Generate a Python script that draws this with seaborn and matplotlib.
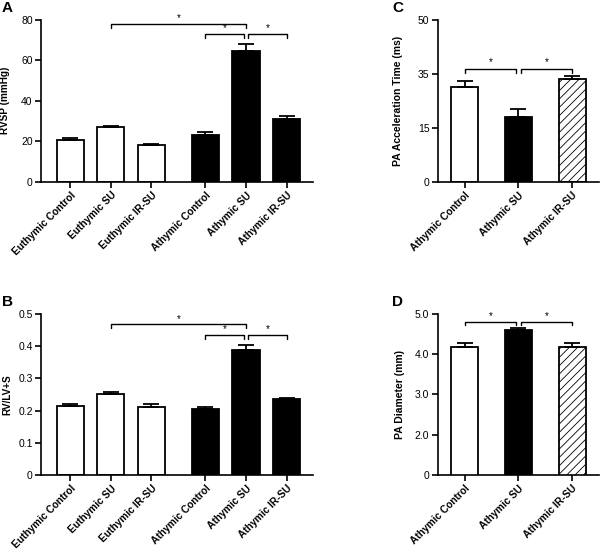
import numpy as np
import pandas as pd
import matplotlib
matplotlib.use("Agg")
import matplotlib.pyplot as plt
import seaborn as sns

# group names
groups_all = ["Euthymic Control", "Euthymic SU", "Euthymic IR-SU",
              "Athymic Control", "Athymic SU", "Athymic IR-SU"]
groups_athy = ["Athymic Control", "Athymic SU", "Athymic IR-SU"]

# bar positions for the 6-group panels (gap between the two strains)
pos_all = [0, 1, 2, 3.33, 4.33, 5.33]

# panel A: RVSP (mmHg), mean and SEM
rvsp = [20.6, 26.8, 18.1, 23.2, 64.7, 30.9]
rvsp_sem = [1.1, 0.5, 0.3, 1.2, 3.4, 1.5]

# panel B: RV/LV+S
rvlv = [0.215, 0.250, 0.212, 0.204, 0.389, 0.235]
rvlv_sem = [0.005, 0.008, 0.007, 0.008, 0.014, 0.004]

# panel C: PA acceleration time (ms)
pa_at = [29.2, 20.1, 31.7]
pa_at_sem = [2.0, 2.2, 0.9]

# panel D: PA diameter (mm)
pa_diam = [4.17, 4.59, 4.17]
pa_diam_sem = [0.10, 0.05, 0.10]

colors_all = ["white"] * 3 + ["black"] * 3
colors_athy = ["white", "black", "white"]

sns.set_style("ticks", {"axes.edgecolor": "black", "xtick.color": "black",
                        "ytick.color": "black", "text.color": "black",
                        "axes.labelcolor": "black"})
plt.rcParams["font.family"] = ["Liberation Sans", "DejaVu Sans"]
plt.rcParams["hatch.linewidth"] = 0.6
plt.rcParams["hatch.color"] = "#555555"

fig = plt.figure(figsize=(6.01, 5.52), dpi=100)
ax_a = fig.add_axes([0.0682, 0.6708, 0.4526, 0.2938])
ax_b = fig.add_axes([0.0682, 0.1395, 0.4526, 0.2917])
ax_c = fig.add_axes([0.7283, 0.6708, 0.2684, 0.2938])
ax_d = fig.add_axes([0.7283, 0.1395, 0.2684, 0.2917])


def bracket(ax, x1, x2, y, h, ystar):
    ax.plot([x1, x1, x2, x2], [y - h, y, y, y - h], color="black", lw=1.0,
            clip_on=False)
    ax.text((x1 + x2) / 2, ystar, "*", ha="center", va="center", fontsize=7)


def style(ax, ylabel, ticks, ticklabels, ylim, xlim, xpos, xlabels, labelx, lsize):
    ax.set_ylim(ylim)
    ax.set_xlim(xlim)
    ax.set_yticks(ticks)
    ax.set_yticklabels(ticklabels, fontsize=7.5)
    ax.set_xticks(xpos)
    ax.set_xticklabels(xlabels, rotation=45, ha="right", va="top",
                       rotation_mode="anchor", fontsize=7.3, fontweight="bold")
    ax.set_xlabel("")
    ax.set_ylabel(ylabel, fontsize=lsize, fontweight="bold")
    ax.yaxis.set_label_coords(labelx, 0.5)
    ax.tick_params(length=4, width=1.2, pad=2)
    for s in ["left", "bottom"]:
        ax.spines[s].set_linewidth(1.2)
    sns.despine(ax=ax)


def bars_six(ax, vals, sem):
    df = pd.DataFrame({"pos": pos_all, "group": groups_all, "val": vals})
    sns.barplot(data=df, x="pos", y="val", hue="group", palette=colors_all,
                native_scale=True, width=0.67, edgecolor="black", linewidth=1.3,
                errorbar=None, legend=False, ax=ax)
    ax.errorbar(pos_all, vals, yerr=[np.zeros(len(sem)), sem], fmt="none",
                ecolor="black", elinewidth=1.3, capsize=6, capthick=1.3, zorder=3)


def bars_three(ax, vals, sem):
    df = pd.DataFrame({"group": groups_athy, "val": vals})
    sns.barplot(data=df, x="group", y="val", hue="group", palette=colors_athy,
                width=0.5, edgecolor="black", linewidth=1.3,
                errorbar=None, legend=False, ax=ax)
    hatched = ax.patches[2]
    hatched.set_hatch("////")
    if hasattr(hatched, "set_hatchcolor"):
        hatched.set_hatchcolor("#555555")
    ax.errorbar(range(3), vals, yerr=[np.zeros(len(sem)), sem], fmt="none",
                ecolor="black", elinewidth=1.3, capsize=6, capthick=1.3, zorder=3)


# A
bars_six(ax_a, rvsp, rvsp_sem)
style(ax_a, "RVSP (mmHg)", [0, 20, 40, 60, 80], ["0", "20", "40", "60", "80"],
      (0, 80), (-0.72, 5.98), pos_all, groups_all, -0.114, 7.2)
bracket(ax_a, pos_all[1], pos_all[4], 77.7, 2.0, 80.6)
bracket(ax_a, pos_all[3], pos_all[4] - 0.06, 72.8, 2.0, 75.6)
bracket(ax_a, pos_all[4] + 0.06, pos_all[5], 72.8, 2.0, 75.6)

# B
bars_six(ax_b, rvlv, rvlv_sem)
style(ax_b, "RV/LV+S", [0, 0.1, 0.2, 0.3, 0.4, 0.5],
      ["0", "0.1", "0.2", "0.3", "0.4", "0.5"],
      (0, 0.5), (-0.72, 5.98), pos_all, groups_all, -0.107, 7.2)
bracket(ax_b, pos_all[1], pos_all[4], 0.468, 0.012, 0.485)
bracket(ax_b, pos_all[3], pos_all[4] - 0.06, 0.436, 0.013, 0.453)
bracket(ax_b, pos_all[4] + 0.06, pos_all[5], 0.436, 0.013, 0.453)

# C
bars_three(ax_c, pa_at, pa_at_sem)
style(ax_c, "PA Acceleration Time (ms)", [0, 50 / 3, 100 / 3, 50],
      ["0", "15", "35", "50"], (0, 50), (-0.5, 2.5), [0, 1, 2], groups_athy,
      -0.215, 7.5)
bracket(ax_c, 0, 0.96, 34.9, 1.3, 37.0)
bracket(ax_c, 1.04, 2, 34.9, 1.3, 37.0)

# D
bars_three(ax_d, pa_diam, pa_diam_sem)
style(ax_d, "PA Diameter (mm)", [1, 2, 3, 4, 5],
      ["0", "2.0", "3.0", "4.0", "5.0"], (1, 5), (-0.5, 2.5), [0, 1, 2],
      groups_athy, -0.203, 7.5)
bracket(ax_d, 0, 0.96, 4.79, 0.07, 4.96)
bracket(ax_d, 1.04, 2, 4.79, 0.07, 4.96)

for lbl, x, y in [("A", 0.003, 0.998), ("B", 0.003, 0.465),
                  ("C", 0.653, 0.998), ("D", 0.653, 0.465)]:
    fig.text(x, y, lbl, fontsize=11, fontweight="bold", va="top")

fig.savefig("out.png", dpi=100)
